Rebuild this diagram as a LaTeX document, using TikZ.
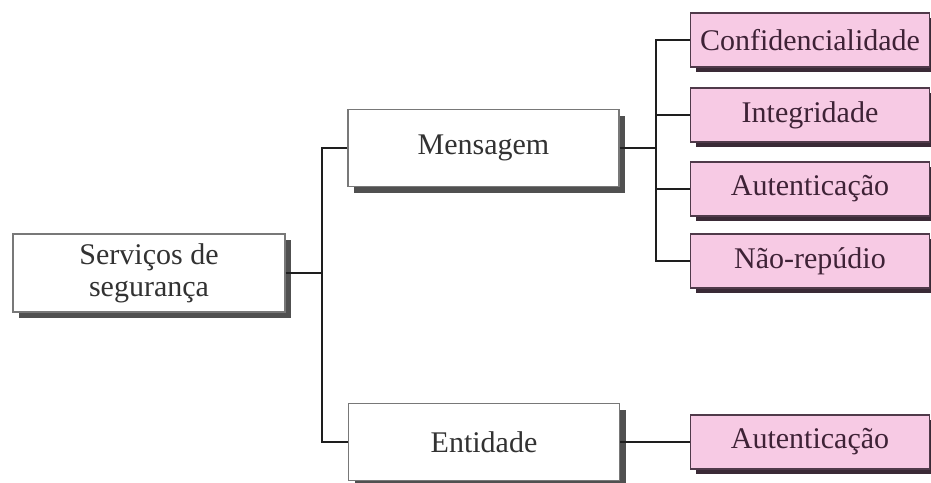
\documentclass[tikz,border=0pt]{standalone}
\usepackage{fontspec}
\setmainfont{Liberation Serif}
\usetikzlibrary{shadows}

\definecolor{pinkfill}{RGB}{247,202,228}
\definecolor{pinkline}{RGB}{80,58,74}
\definecolor{pinkshade}{RGB}{58,42,54}
\definecolor{pinktext}{RGB}{62,34,54}
\definecolor{boxline}{RGB}{120,120,120}
\definecolor{boxshade}{RGB}{80,80,80}
\definecolor{boxtext}{RGB}{50,50,50}
\definecolor{wire}{RGB}{30,30,30}

\tikzset{
  whitebox/.style={draw=boxline, line width=1.2pt, fill=white,
    minimum width=271pt, minimum height=77pt, inner sep=0pt,
    align=center, text=boxtext,
    font=\fontsize{30}{32}\selectfont,
    drop shadow={shadow xshift=6pt, shadow yshift=-6pt, opacity=1, fill=boxshade}},
  pinkbox/.style={draw=pinkline, line width=1.2pt, fill=pinkfill,
    minimum width=239pt, minimum height=54pt, inner sep=0pt,
    align=center, text=pinktext,
    font=\fontsize{30}{32}\selectfont,
    drop shadow={shadow xshift=5pt, shadow yshift=-5pt, opacity=1, fill=pinkshade}},
  wireline/.style={draw=wire, line width=2.4pt}
}

\begin{document}
\begin{tikzpicture}[x=1pt, y=-1pt]
  \useasboundingbox (0,0) rectangle (931,482);

  % main boxes
  \node[whitebox, minimum width=272pt, minimum height=78pt] (serv) at (149,273)
    {Serviços de\\segurança};
  \node[whitebox] (msg) at (483.5,148) {Mensagem};
  \node[whitebox] (ent) at (484,442) {Entidade};

  % message services
  \node[pinkbox] (conf) at (810,40)    {Confidencialidade};
  \node[pinkbox] (integ) at (810,115)  {Integridade};
  \node[pinkbox] (autm) at (810,189)   {Autenticação};
  \node[pinkbox] (nrep) at (810,261)   {Não-repúdio};
  % entity service
  \node[pinkbox] (aute) at (810,442)   {Autenticação};

  % branching points
  \coordinate (j1) at (322,273);
  \coordinate (j2) at (656,148);

  % connectors
  \draw[wireline] (serv.east) -- (j1);
  \draw[wireline] (msg.west) -| (j1) |- (ent.west);
  \draw[wireline] (msg.east) -- (j2);
  \draw[wireline] (conf.west) -| (j2) |- (nrep.west);
  \draw[wireline] (integ.west) -| (j2);
  \draw[wireline] (autm.west) -| (j2);
  \draw[wireline] (ent.east) -- (aute.west);
\end{tikzpicture}
\end{document}
